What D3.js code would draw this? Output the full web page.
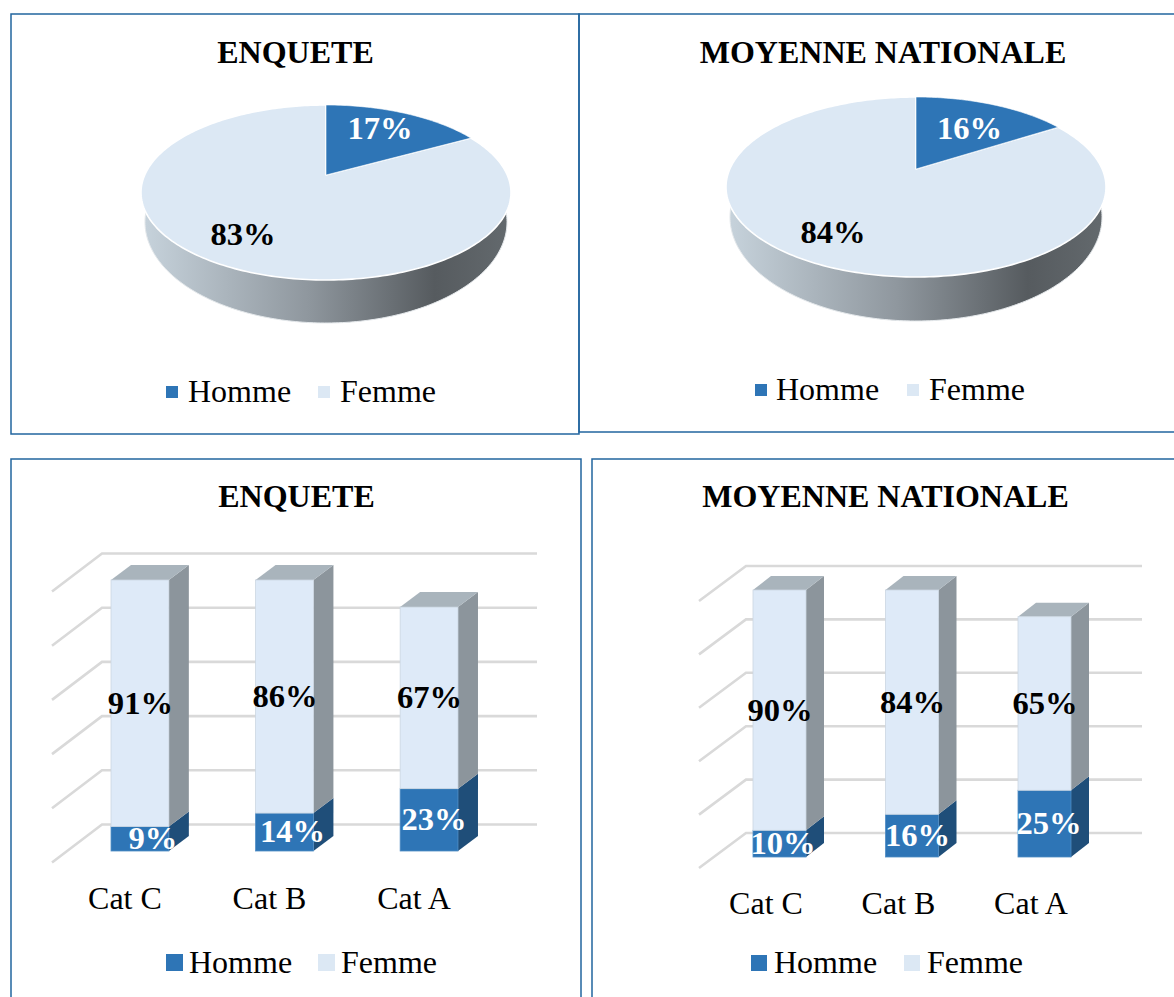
<!DOCTYPE html>
<html><head><meta charset="utf-8">
<script src="https://cdn.jsdelivr.net/npm/d3@7/dist/d3.min.js"></script>
<style>html,body{margin:0;padding:0;background:#fff;overflow:hidden}svg{display:block}text{font-family:"Liberation Serif",serif}</style>
</head><body><svg id="c" width="1174" height="997"></svg>
<script>
const seriesNames = ["Homme", "Femme"];
const categories = ["Cat C", "Cat B", "Cat A"];
const pieEnquete = [17, 83];
const pieNationale = [16, 84];
const hommeEnquete = [9, 14, 23];
const femmeEnquete = [91, 86, 67];
const hommeNationale = [10, 16, 25];
const femmeNationale = [90, 84, 65];
const titleEnquete = "ENQUETE";
const titleNationale = "MOYENNE NATIONALE";

const BLUE = "#2e75b6", PALE = "#dce8f4", PALEBAR = "#deeaf8";
const FONT = 32, PCT = 32.6;
const svg = d3.select("#c");
const defs = svg.append("defs");
const grad = defs.append("linearGradient").attr("id", "side").attr("x1", 0).attr("x2", 1).attr("y1", 0).attr("y2", 0);
[[0, "#c6d2db"], [0.45, "#8f979e"], [0.8, "#565b5f"], [1, "#63696d"]].forEach(s => grad.append("stop").attr("offset", s[0]).attr("stop-color", s[1]));

const frame = "#22659f";
[[11, 14, 568, 420], [579, 14, 620, 418], [11, 459, 570, 560], [592, 459, 600, 560]].forEach(r =>
  svg.append("rect").attr("x", r[0]).attr("y", r[1]).attr("width", r[2]).attr("height", r[3])
    .attr("fill", "none").attr("stroke", frame).attr("stroke-width", 1.5));

function label(t, x, y, o = {}) {
  const size = o.size || FONT;
  return svg.append("text").attr("x", x).attr("y", y + size * 0.32).attr("text-anchor", o.anchor || "middle")
    .attr("font-size", size).attr("font-weight", o.bold ? 700 : 400).attr("fill", o.fill || "#000").text(t);
}
function legend(y, size, sq1, tx1, sq2, tx2, ty) {
  [[sq1, tx1, BLUE], [sq2, tx2, PALE]].forEach((l, i) => {
    svg.append("rect").attr("x", l[0]).attr("y", y).attr("width", size).attr("height", size).attr("fill", l[2]);
    svg.append("text").attr("x", l[1]).attr("y", ty).attr("font-size", FONT).text(seriesNames[i]);
  });
}

function drawPie(values, g) {
  const c = (g.top + g.bottom - 2 * g.apex) / (g.bottom - g.top);
  const a = g.top + g.top * c - g.apex;
  const R = g.rx / 1.0206;
  const proj = th => {
    const d = 1 + c * Math.cos(th);
    return [g.cx + R * Math.sin(th) / d, (a * Math.cos(th) + g.apex) / d];
  };
  svg.append("path").attr("d", d3.line().curve(d3.curveLinearClosed)(
    d3.range(0, 2 * Math.PI, 0.02).map(t => [g.cx + g.brx * Math.cos(t), g.bcy + g.bry * Math.sin(t)])))
    .attr("fill", "url(#side)").attr("stroke", "#e4e8eb").attr("stroke-width", 1);
  const line = d3.line();
  const arcs = d3.pie().sort(null)(values);
  [arcs[1], arcs[0]].forEach(ar => {
    const n = Math.ceil((ar.endAngle - ar.startAngle) / 0.02);
    const pts = d3.range(n + 1).map(i => proj(ar.startAngle + (ar.endAngle - ar.startAngle) * i / n));
    svg.append("path").attr("d", line([[g.cx, g.apex], ...pts]) + "Z")
      .attr("fill", ar.index === 0 ? BLUE : PALE)
      .attr("stroke", "#fff").attr("stroke-width", ar.index === 0 ? 0.6 : 1.6).attr("stroke-linejoin", "round");
  });
  label(values[0] + "%", g.l0[0], g.l0[1], { bold: true, fill: "#fff", size: PCT });
  label(values[1] + "%", g.l1[0], g.l1[1], { bold: true, size: PCT });
}

function drawBars(homme, femme, g) {
  const rows = categories.map((k, i) => ({ k, Homme: homme[i], Femme: femme[i] }));
  const x = d3.scaleBand().domain(categories).range(g.xr).paddingInner(0.6).paddingOuter(0.3);
  const y = d3.scaleLinear().domain([0, 100]).range([g.y0, g.y1]);
  const gl = svg.append("g").attr("fill", "none").attr("stroke", "#d9d9d9").attr("stroke-width", 2.6);
  y.ticks(5).forEach(t => {
    const by = y(t) - g.back;
    gl.append("path").attr("d", d3.line()([[g.bx0 + g.wx, by + g.wy], [g.bx0, by], [g.bx1, by]]));
  });
  const stack = d3.stack().keys(seriesNames)(rows);
  const colors = [["#2e75b6", "#1f4e79"], [PALEBAR, "#8c959c"]];
  stack.forEach((s, si) => s.forEach((d) => {
    const x0 = x(d.data.k), x1 = x0 + x.bandwidth(), t = y(d[1]), b = y(d[0]);
    const top = si === stack.length - 1;
    svg.append("path").attr("d", d3.line()([[x1, t], [x1 + g.dx, t - g.dy], [x1 + g.dx, b - g.dy], [x1, b]]) + "Z").attr("fill", colors[si][1]);
    if (top) svg.append("path").attr("d", d3.line()([[x0, t], [x0 + g.dx, t - g.dy], [x1 + g.dx, t - g.dy], [x1, t]]) + "Z").attr("fill", "#a9b4bc");
    svg.append("rect").attr("x", x0).attr("y", t).attr("width", x.bandwidth()).attr("height", b - t)
      .attr("fill", colors[si][0]).attr("stroke", si ? "#cbd6e2" : "#4f8cc4").attr("stroke-width", 0.8);
  }));
  stack.forEach((s, si) => s.forEach((d, i) => {
    const off = si === 0 ? g.hommeShift[i] : 0.5;
    label(d.data[s.key] + "%", x(d.data.k) + x.bandwidth() / 2 + off, (y(d[0]) + y(d[1])) / 2, { bold: true, fill: si === 0 ? "#fff" : "#000", size: PCT });
  }));
  const ax = svg.append("g").attr("transform", `translate(${g.axisShift},${g.axisY})`).call(d3.axisBottom(x).tickSize(0).tickPadding(0));
  ax.select(".domain").remove();
  ax.selectAll("text").attr("font-size", FONT).attr("font-family", '"Liberation Serif",serif').attr("fill", "#000");
}

label(titleEnquete, 295.5, 53, { bold: true });
label(titleNationale, 883, 53, { bold: true });
label(titleEnquete, 296.5, 497, { bold: true });
label(titleNationale, 885.5, 497, { bold: true });

drawPie(pieEnquete, { cx: 326, rx: 185, top: 105, bottom: 280, apex: 175, brx: 181, bcy: 222, bry: 101, l0: [380, 129], l1: [243, 235] });
drawPie(pieNationale, { cx: 916, rx: 190, top: 97, bottom: 277, apex: 169, brx: 186, bcy: 217, bry: 104, l0: [969.5, 129], l1: [833, 233] });
legend(386, 12, 166, 188, 318, 340, 402);
legend(384, 12, 755, 776, 907, 929, 400);

drawBars(hommeEnquete, femmeEnquete, { xr: [67.65, 501.35], y0: 851, y1: 580, back: 26.5, bx0: 102, bx1: 537, wx: -50, wy: 38, dx: 20, dy: 15, hommeShift: [13, 8, 5], axisShift: -15, axisY: 886 });
drawBars(hommeNationale, femmeNationale, { xr: [713.25, 1110.75], y0: 857, y1: 590, back: 24, bx0: 746, bx1: 1142, wx: -47, wy: 35, dx: 18, dy: 14, hommeShift: [3.5, 5.5, 4.5], axisShift: -13.5, axisY: 891 });
legend(954, 17, 166, 189, 318, 341, 973);
legend(955, 16, 751, 774, 904, 927, 973);
</script></body></html>
